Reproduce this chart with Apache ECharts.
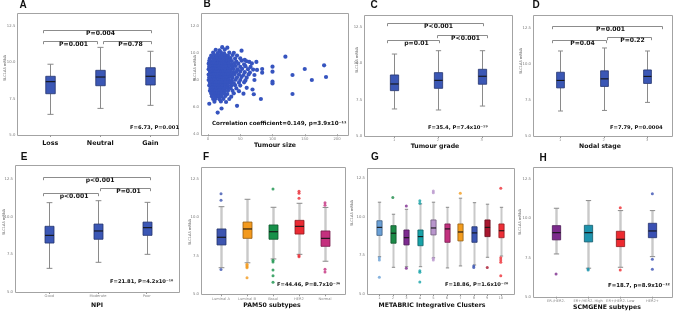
<!DOCTYPE html>
<html>
<head>
<meta charset="utf-8">
<script src="https://cdn.jsdelivr.net/npm/echarts@6/dist/echarts.min.js"></script>
<style>
html, body { margin: 0; padding: 0; background: #fff; }
#chart { width: 677px; height: 312px; }
</style>
</head>
<body>
<div id="chart"></div>
<script>
// ---------- data ----------
// box rows: [lower whisker, Q1, median, Q3, upper whisker]
var boxAxis = { min: 5, max: 12.5, step: 2.5 };
var sizeAxis = { min: 0, max: 200, step: 50 };
var sizeValAxis = { min: 4, max: 12, step: 2 };

var cnaCats = ['Loss', 'Neutral', 'Gain'];
var cnaBox = [[6.42, 7.84, 8.67, 9.04, 9.87], [6.83, 8.39, 8.99, 9.45, 11.03], [7.04, 8.44, 9.04, 9.63, 10.76]];
var cnaPairs = [[-0.15, 2.01, 12.25, 'P=0.004'], [-0.15, 0.93, 11.47, 'P=0.001'], [1.05, 2.01, 11.47, 'P=0.78']];

var gradeCats = ['1', '2', '3'];
var gradeBox = [[6.86, 8.12, 8.58, 9.20, 10.64], [6.79, 8.28, 8.83, 9.36, 10.87], [7.06, 8.56, 9.11, 9.59, 10.87]];
var gradePairs = [[-0.17, 2.02, 12.8, 'P<0.001'], [-0.17, 1.03, 11.61, 'p=0.01'], [0.99, 2.13, 11.95, 'P<0.001']];

var nodalCats = ['1', '2', '3'];
var nodalBox = [[6.74, 8.35, 8.87, 9.44, 10.92], [6.78, 8.45, 8.98, 9.54, 11.13], [7.34, 8.66, 9.15, 9.60, 10.92]];
var nodalPairs = [[-0.2, 2.34, 12.66, 'P=0.001'], [-0.2, 1.05, 11.69, 'P=0.04'], [1.08, 2.08, 11.87, 'P=0.22']];

var npiCats = ['Good', 'Moderate', 'Poor'];
var npiBox = [[6.57, 8.25, 8.76, 9.36, 10.93], [6.97, 8.50, 9.05, 9.51, 11.06], [7.50, 8.76, 9.27, 9.64, 10.95]];
var npiPairs = [[-0.14, 2.07, 12.65, 'p<0.001'], [-0.14, 0.99, 11.59, 'p<0.001'], [1.04, 2.07, 11.92, 'P=0.01']];

var pam50Cats = ['Luminal A', 'Luminal B', 'Basal', 'HER2', 'Normal'];
var pam50Box = [[6.73, 8.21, 8.71, 9.25, 10.70], [7.05, 8.64, 9.25, 9.70, 11.18], [7.30, 8.58, 9.07, 9.51, 10.66],
                [7.60, 8.92, 9.42, 9.81, 10.92], [7.15, 8.12, 8.64, 9.12, 10.65]];
var pam50Out = [[0, 11.54], [0, 11.11], [0, 6.62], [1, 6.95], [1, 6.88], [1, 6.80], [1, 6.72], [1, 6.08],
                [2, 11.85], [2, 7.22], [2, 7.10], [2, 6.58], [2, 6.21], [2, 5.78],
                [3, 11.70], [3, 11.57], [3, 11.24], [3, 7.52], [3, 7.45],
                [4, 10.95], [4, 10.80], [4, 6.63], [4, 6.45]];

var icCats = ['1', '2', '3', '4', '5', '6', '7', '8', '9', '10'];
var icBox = [[7.42, 8.80, 9.32, 9.75, 10.95], [6.73, 8.29, 8.94, 9.43, 10.17], [6.77, 8.18, 8.65, 9.15, 10.49],
             [6.77, 8.13, 8.72, 9.15, 10.84], [7.35, 8.83, 9.28, 9.80, 10.95], [6.69, 8.35, 9.22, 9.54, 10.62],
             [6.82, 8.44, 9.02, 9.54, 11.21], [6.88, 8.35, 8.96, 9.36, 10.92], [7.38, 8.72, 9.32, 9.80, 10.82],
             [7.46, 8.65, 9.10, 9.54, 10.62]];
var icOut = [[0, 7.35], [0, 7.20], [0, 6.08], [1, 11.25], [2, 10.71], [2, 6.67],
             [3, 11.05], [3, 10.88], [3, 6.51], [3, 6.41], [3, 5.78], [4, 11.68], [4, 11.57], [4, 7.31], [4, 7.20],
             [6, 11.53], [7, 6.82], [7, 6.71], [8, 6.71], [9, 11.85], [9, 7.35], [9, 7.20], [9, 7.06], [9, 6.19]];

var scmCats = ['ER-/HER2-', 'ER+/HER2- High', 'ER+/HER2- Low', 'HER2+'];
var scmBox = [[7.73, 8.63, 9.09, 9.54, 10.65], [6.82, 8.50, 9.09, 9.56, 11.14], [6.88, 8.20, 8.67, 9.18, 10.50],
              [7.56, 8.77, 9.20, 9.69, 10.50]];
var scmOut = [[0, 6.45], [1, 6.77], [1, 6.71], [2, 10.69], [2, 6.71], [3, 11.57], [3, 7.39], [3, 6.75]];

// tumour size (mm) vs SLC1A5 mRNA
var tumourSizePts = [
  [22, 10.42], [30, 10.38], [12, 10.22], [18, 10.18], [26, 10.24], [52, 10.16],
  [8, 10.02], [15, 9.98], [20, 10.04], [25, 9.97], [33, 10.01], [40, 10.0],
  [5, 9.8], [10, 9.83], [14, 9.78], [18, 9.82], [22, 9.79], [27, 9.81], [31, 9.77], [38, 9.84], [45, 9.8], [57, 9.48],
  [3, 9.6], [7, 9.62], [11, 9.58], [15, 9.61], [19, 9.59], [23, 9.63], [26, 9.57], [30, 9.6], [35, 9.62], [42, 9.58], [50, 9.6], [64, 9.33],
  [2, 9.41], [5, 9.38], [9, 9.42], [12, 9.4], [16, 9.37], [19, 9.43], [22, 9.39], [25, 9.41], [29, 9.38], [33, 9.42], [37, 9.4], [44, 9.36], [52, 9.42], [60, 9.38], [75, 9.33],
  [1, 9.2], [4, 9.22], [7, 9.18], [10, 9.21], [13, 9.19], [16, 9.23], [19, 9.2], [22, 9.17], [25, 9.22], [28, 9.19], [32, 9.21], [36, 9.18], [41, 9.23], [47, 9.2], [56, 9.16], [68, 9.22],
  [2, 9.0], [5, 9.02], [8, 8.98], [11, 9.01], [14, 8.99], [17, 9.03], [20, 8.97], [23, 9.0], [26, 9.02], [29, 8.98], [33, 9.01], [38, 8.99], [43, 9.03], [50, 8.97], [58, 9.02], [66, 8.96], [76, 8.74], [84, 8.81],
  [1, 8.8], [4, 8.78], [7, 8.82], [10, 8.79], [13, 8.81], [16, 8.77], [19, 8.8], [22, 8.83], [25, 8.78], [28, 8.8], [31, 8.82], [35, 8.79], [40, 8.81], [46, 8.78], [53, 8.82], [62, 8.8], [70, 8.77],
  [3, 8.6], [6, 8.62], [9, 8.58], [12, 8.61], [15, 8.59], [18, 8.63], [21, 8.6], [24, 8.57], [27, 8.61], [30, 8.6], [34, 8.62], [39, 8.58], [44, 8.6], [50, 8.63], [57, 8.58], [65, 8.55], [84, 8.54],
  [1, 8.4], [4, 8.42], [7, 8.38], [10, 8.41], [13, 8.39], [16, 8.43], [19, 8.4], [22, 8.37], [25, 8.42], [28, 8.39], [32, 8.41], [36, 8.38], [41, 8.42], [48, 8.4], [55, 8.37], [63, 8.41], [72, 8.37],
  [2, 8.2], [5, 8.22], [8, 8.18], [11, 8.21], [14, 8.19], [17, 8.23], [20, 8.2], [23, 8.17], [26, 8.21], [30, 8.2], [34, 8.22], [38, 8.18], [45, 8.2], [52, 8.23], [60, 8.17],
  [1, 8.0], [4, 8.02], [7, 7.98], [10, 8.01], [13, 7.99], [16, 8.03], [19, 8.0], [22, 7.97], [25, 8.02], [28, 7.99], [32, 8.01], [37, 7.98], [43, 8.02], [50, 8.0], [58, 7.97], [72, 8.0],
  [3, 7.8], [6, 7.82], [9, 7.78], [12, 7.81], [15, 7.79], [18, 7.83], [21, 7.8], [24, 7.77], [27, 7.81], [31, 7.8], [35, 7.82], [40, 7.78], [48, 7.8], [56, 7.83],
  [2, 7.6], [5, 7.62], [8, 7.58], [11, 7.61], [14, 7.59], [17, 7.63], [20, 7.6], [23, 7.57], [27, 7.61], [31, 7.6], [36, 7.58], [42, 7.62], [50, 7.59],
  [4, 7.4], [7, 7.42], [10, 7.38], [13, 7.41], [16, 7.39], [19, 7.43], [22, 7.4], [26, 7.37], [30, 7.41], [35, 7.4], [44, 7.38], [60, 7.42], [69, 7.3],
  [3, 7.2], [6, 7.22], [9, 7.18], [12, 7.21], [15, 7.19], [18, 7.23], [22, 7.2], [26, 7.17], [31, 7.21], [38, 7.2], [48, 7.18],
  [5, 7.0], [8, 7.02], [11, 6.98], [14, 7.01], [17, 6.99], [21, 7.03], [25, 7.0], [30, 6.97], [40, 7.02], [55, 6.99], [71, 6.95],
  [6, 6.8], [10, 6.82], [13, 6.78], [17, 6.81], [21, 6.79], [27, 6.83], [36, 6.77],
  [8, 6.6], [12, 6.62], [18, 6.58], [24, 6.61], [33, 6.6], [82, 6.6],
  [10, 6.4], [20, 6.42], [28, 6.38], [2, 6.25], [15, 5.6], [21, 5.9], [45, 6.1],
  [120, 9.72], [150, 8.81], [161, 8.0], [183, 8.22], [180, 9.08], [131, 8.37], [131, 6.97],
  [100, 8.98], [100, 8.61], [100, 7.88], [100, 7.75]
];

// ---------- layout / style ----------
var FONT = 'DejaVu Sans';
var blue = '#3b57b5';
var pamColors = ['#3d55b0', '#f39a1e', '#17914a', '#ea2a33', '#c4307e'];
var icColors = ['#6aa0d6', '#1b8a47', '#7d2a8f', '#17a2a8', '#b895cc', '#c2317f', '#f39c1e', '#3b55b3', '#a8162e', '#ee2f37'];
var scmColors = ['#7c2a8c', '#1d93ad', '#ed2a30', '#3a50b3'];

var grids = [
  { left: 25.3, top: 26, width: 150, height: 109 },
  { left: 208, top: 25.7, width: 129, height: 108.6 },
  { left: 372.1, top: 27, width: 131.6, height: 109 },
  { left: 538.5, top: 28.3, width: 130.5, height: 107.7 },
  { left: 25, top: 179, width: 146, height: 113 },
  { left: 208, top: 179, width: 130, height: 115.3 },
  { left: 372.6, top: 178.3, width: 134.9, height: 115.7 },
  { left: 540, top: 179.3, width: 128.4, height: 117.4 }
];
var frames = [[17, 13, 161, 122], [201, 13, 147, 122], [364, 15, 148, 121], [533, 15, 139, 121],
              [15, 165, 164, 127], [201, 167, 144, 127], [367, 168, 147, 126], [533, 167, 139, 130]];
var labelMargins = [10, 9, 10, 7.5, 12, 9, 7.6, 9];

function darker(hex) {
  var n = parseInt(hex.slice(1), 16);
  var r = Math.round(((n >> 16) & 255) * 0.6), g = Math.round(((n >> 8) & 255) * 0.6), b = Math.round((n & 255) * 0.6);
  return 'rgb(' + r + ',' + g + ',' + b + ')';
}

function boxRender(colors, boxW, stemColor, stemW) {
  return function (params, api) {
    var i = api.value(0);
    var lo = api.coord([i, api.value(1)]);
    var q1 = api.coord([i, api.value(2)]);
    var md = api.coord([i, api.value(3)]);
    var q3 = api.coord([i, api.value(4)]);
    var hi = api.coord([i, api.value(5)]);
    var cx = Math.round(lo[0]) + 0.5, hw = boxW / 2, cw = boxW * 0.32;
    var c = colors[params.dataIndex % colors.length];
    return {
      type: 'group',
      children: [
        { type: 'line', shape: { x1: cx, y1: hi[1], x2: cx, y2: q3[1] }, style: { stroke: stemColor, lineWidth: stemW } },
        { type: 'line', shape: { x1: cx, y1: q1[1], x2: cx, y2: lo[1] }, style: { stroke: stemColor, lineWidth: stemW } },
        { type: 'line', shape: { x1: cx - cw, y1: hi[1], x2: cx + cw, y2: hi[1] }, style: { stroke: '#8a8a8a', lineWidth: 1 } },
        { type: 'line', shape: { x1: cx - cw, y1: lo[1], x2: cx + cw, y2: lo[1] }, style: { stroke: '#8a8a8a', lineWidth: 1 } },
        { type: 'rect', shape: { x: cx - hw, y: q3[1], width: boxW, height: q1[1] - q3[1] },
          style: { fill: c, stroke: darker(c), lineWidth: 0.8 } },
        { type: 'line', shape: { x1: cx - hw, y1: md[1], x2: cx + hw, y2: md[1] }, style: { stroke: '#151515', lineWidth: 1.1 } }
      ]
    };
  };
}

function rows(box) {
  return box.map(function (b, i) { return [i].concat(b); });
}

var xAxes = [], yAxes = [], series = [];

function boxPanel(gi, cats, box, colors, boxW, stemColor, stemW, bigLabels) {
  xAxes.push({
    type: 'category', gridIndex: gi, data: cats, boundaryGap: true,
    axisLine: { show: false },
    axisTick: { show: true, alignWithLabel: true, length: 2, lineStyle: { color: '#999' } },
    axisLabel: bigLabels
      ? { fontSize: 6.4, fontWeight: 'bold', color: '#111', margin: 5.5, fontFamily: FONT, interval: 0 }
      : { fontSize: 3.6, color: '#888', margin: 2.5, fontFamily: FONT, interval: 0 }
  });
  yAxes.push({
    type: 'value', gridIndex: gi, min: boxAxis.min, max: boxAxis.max, interval: boxAxis.step,
    axisLine: { show: false }, axisTick: { show: false }, splitLine: { show: false },
    axisLabel: { fontSize: 3.8, color: '#777', margin: labelMargins[gi], fontFamily: FONT,
                 formatter: function (v) { return v.toFixed(1); } }
  });
  series.push({
    type: 'custom', xAxisIndex: gi, yAxisIndex: gi, clip: false,
    renderItem: boxRender(colors, boxW, stemColor, stemW),
    encode: { x: 0, y: [1, 2, 3, 4, 5] },
    data: rows(box)
  });
}

function outliers(gi, pts, colors) {
  series.push({
    type: 'scatter', xAxisIndex: gi, yAxisIndex: gi, symbolSize: 3, clip: false,
    itemStyle: { color: function (p) { return colors[p.data[0]]; } },
    data: pts
  });
}

boxPanel(0, cnaCats, cnaBox, [blue], 9.5, '#8a8a8a', 1, true);

// B: scatter
xAxes.push({
  type: 'value', gridIndex: 1, min: sizeAxis.min, max: sizeAxis.max, interval: sizeAxis.step,
  axisLine: { show: false }, splitLine: { show: false },
  axisTick: { show: true, length: 2, lineStyle: { color: '#999' } },
  axisLabel: { fontSize: 3.8, color: '#888', margin: 2.5, fontFamily: FONT }
});
yAxes.push({
  type: 'value', gridIndex: 1, min: sizeValAxis.min, max: sizeValAxis.max, interval: sizeValAxis.step,
  axisLine: { show: false }, axisTick: { show: false }, splitLine: { show: false },
  axisLabel: { fontSize: 3.8, color: '#777', margin: labelMargins[1], fontFamily: FONT,
               formatter: function (v) { return v.toFixed(1); } }
});
series.push({
  type: 'scatter', xAxisIndex: 1, yAxisIndex: 1, symbolSize: 4.2,
  itemStyle: { color: '#3654bf', opacity: 1 },
  data: tumourSizePts
});

boxPanel(2, gradeCats, gradeBox, [blue], 8.3, '#8a8a8a', 1, false);
boxPanel(3, nodalCats, nodalBox, [blue], 7.8, '#8a8a8a', 1, false);
boxPanel(4, npiCats, npiBox, [blue], 9, '#8a8a8a', 1, false);
boxPanel(5, pam50Cats, pam50Box, pamColors, 9, '#c9c9c9', 2.4, false);
outliers(5, pam50Out, pamColors);
boxPanel(6, icCats, icBox, icColors, 5.2, '#c9c9c9', 2, false);
outliers(6, icOut, icColors);
boxPanel(7, scmCats, scmBox, scmColors, 8.3, '#c9c9c9', 2.4, false);
outliers(7, scmOut, scmColors);

var chart = echarts.init(document.getElementById('chart'));
chart.setOption({
  animation: false,
  backgroundColor: '#fff',
  textStyle: { fontFamily: FONT },
  grid: grids.map(function (g) { return Object.assign({ show: false }, g); }),
  xAxis: xAxes,
  yAxis: yAxes,
  series: series
});

// ---------- annotations ----------
var gfx = [];
frames.forEach(function (f) {
  gfx.push({ type: 'rect', silent: true, z: 0,
    shape: { x: f[0] + 0.5, y: f[1] + 0.5, width: f[2], height: f[3] },
    style: { fill: 'none', stroke: '#a3a3a3', lineWidth: 1 } });
});

function txt(x, y, s, size, align) {
  gfx.push({ type: 'text', silent: true, z: 10, x: x, y: y,
    style: { text: s, fontSize: size, fontWeight: 'bold', fontFamily: FONT, fill: '#111',
             align: align || 'center', verticalAlign: 'middle' } });
}

var letters = [['A', 23, 5], ['B', 207, 4], ['C', 374, 5], ['D', 536, 5],
               ['E', 24, 157.5], ['F', 206, 157], ['G', 375, 157.5], ['H', 543, 158]];
letters.forEach(function (l) {
  gfx.push({ type: 'text', silent: true, x: l[1], y: l[2],
    style: { text: l[0], fontSize: 10, fontWeight: 'bold', fontFamily: 'Liberation Sans', fill: '#111',
             align: 'center', verticalAlign: 'middle' } });
});

var yNames = [[5, 68], [195, 68], [357, 60], [521, 61], [4, 222], [190, 232], [352, 213], [520, 222]];
yNames.forEach(function (p) {
  gfx.push({ type: 'text', silent: true, x: p[0], y: p[1], rotation: Math.PI / 2,
    style: { text: 'SLC1A5 mRNA', fontSize: 3.6, fontFamily: FONT, fill: '#666',
             align: 'center', verticalAlign: 'middle' } });
});

txt(275, 145, 'Tumour size', 6.2);
txt(435, 146, 'Tumour grade', 6.2);
txt(600, 146, 'Nodal stage', 6.2);
txt(97, 305.5, 'NPI', 6.2);
txt(272, 305, 'PAM50 subtypes', 6.2);
txt(432, 305, 'METABRIC Integrative Clusters', 6.2);
txt(607, 307.5, 'SCMGENE subtypes', 6.2);

var stats = [[130, 127.7, 'F=6.73, P=0.001', 5.2], [212, 124, 'Correlation coefficient=0.149, p=3.9x10⁻¹¹', 5.6],
             [428, 127.7, 'F=35.4, P=7.4x10⁻¹⁹', 5.2], [610, 127.7, 'F=7.79, P=0.0004', 5.2],
             [110, 281.7, 'F=21.81, P=4.2x10⁻¹⁰', 5.2], [277, 284.7, 'F=44.46, P=8.7x10⁻³⁶', 5.2],
             [445, 285, 'F=18.86, P=1.6x10⁻²⁰', 5.2], [608, 285.7, 'F=18.7, p=8.9x10⁻¹²', 5.4]];
stats.forEach(function (s) { txt(s[0], s[1], s[2], s[3], 'left'); });

function catX(gi, f) {
  var a = chart.convertToPixel({ gridIndex: gi }, [0, 8])[0];
  var b = chart.convertToPixel({ gridIndex: gi }, [1, 8])[0];
  return a + f * (b - a);
}
[[0, cnaPairs], [2, gradePairs], [3, nodalPairs], [4, npiPairs]].forEach(function (pp) {
  var gi = pp[0];
  pp[1].forEach(function (p) {
    var x0 = Math.round(catX(gi, p[0])) + 0.5, x1 = Math.round(catX(gi, p[1])) + 0.5;
    var y = Math.round(chart.convertToPixel({ gridIndex: gi }, [0, p[2]])[1]) + 0.5;
    gfx.push({ type: 'polyline', silent: true, z: 5,
      shape: { points: [[x0, y + 2.7], [x0, y], [x1, y], [x1, y + 2.7]] },
      style: { stroke: '#8c8c8c', lineWidth: 1, fill: 'none' } });
    txt((x0 + x1) / 2 + 3, y + 3.3, p[3], 6.1);
  });
});

chart.setOption({ graphic: { elements: gfx } });
</script>
</body>
</html>
